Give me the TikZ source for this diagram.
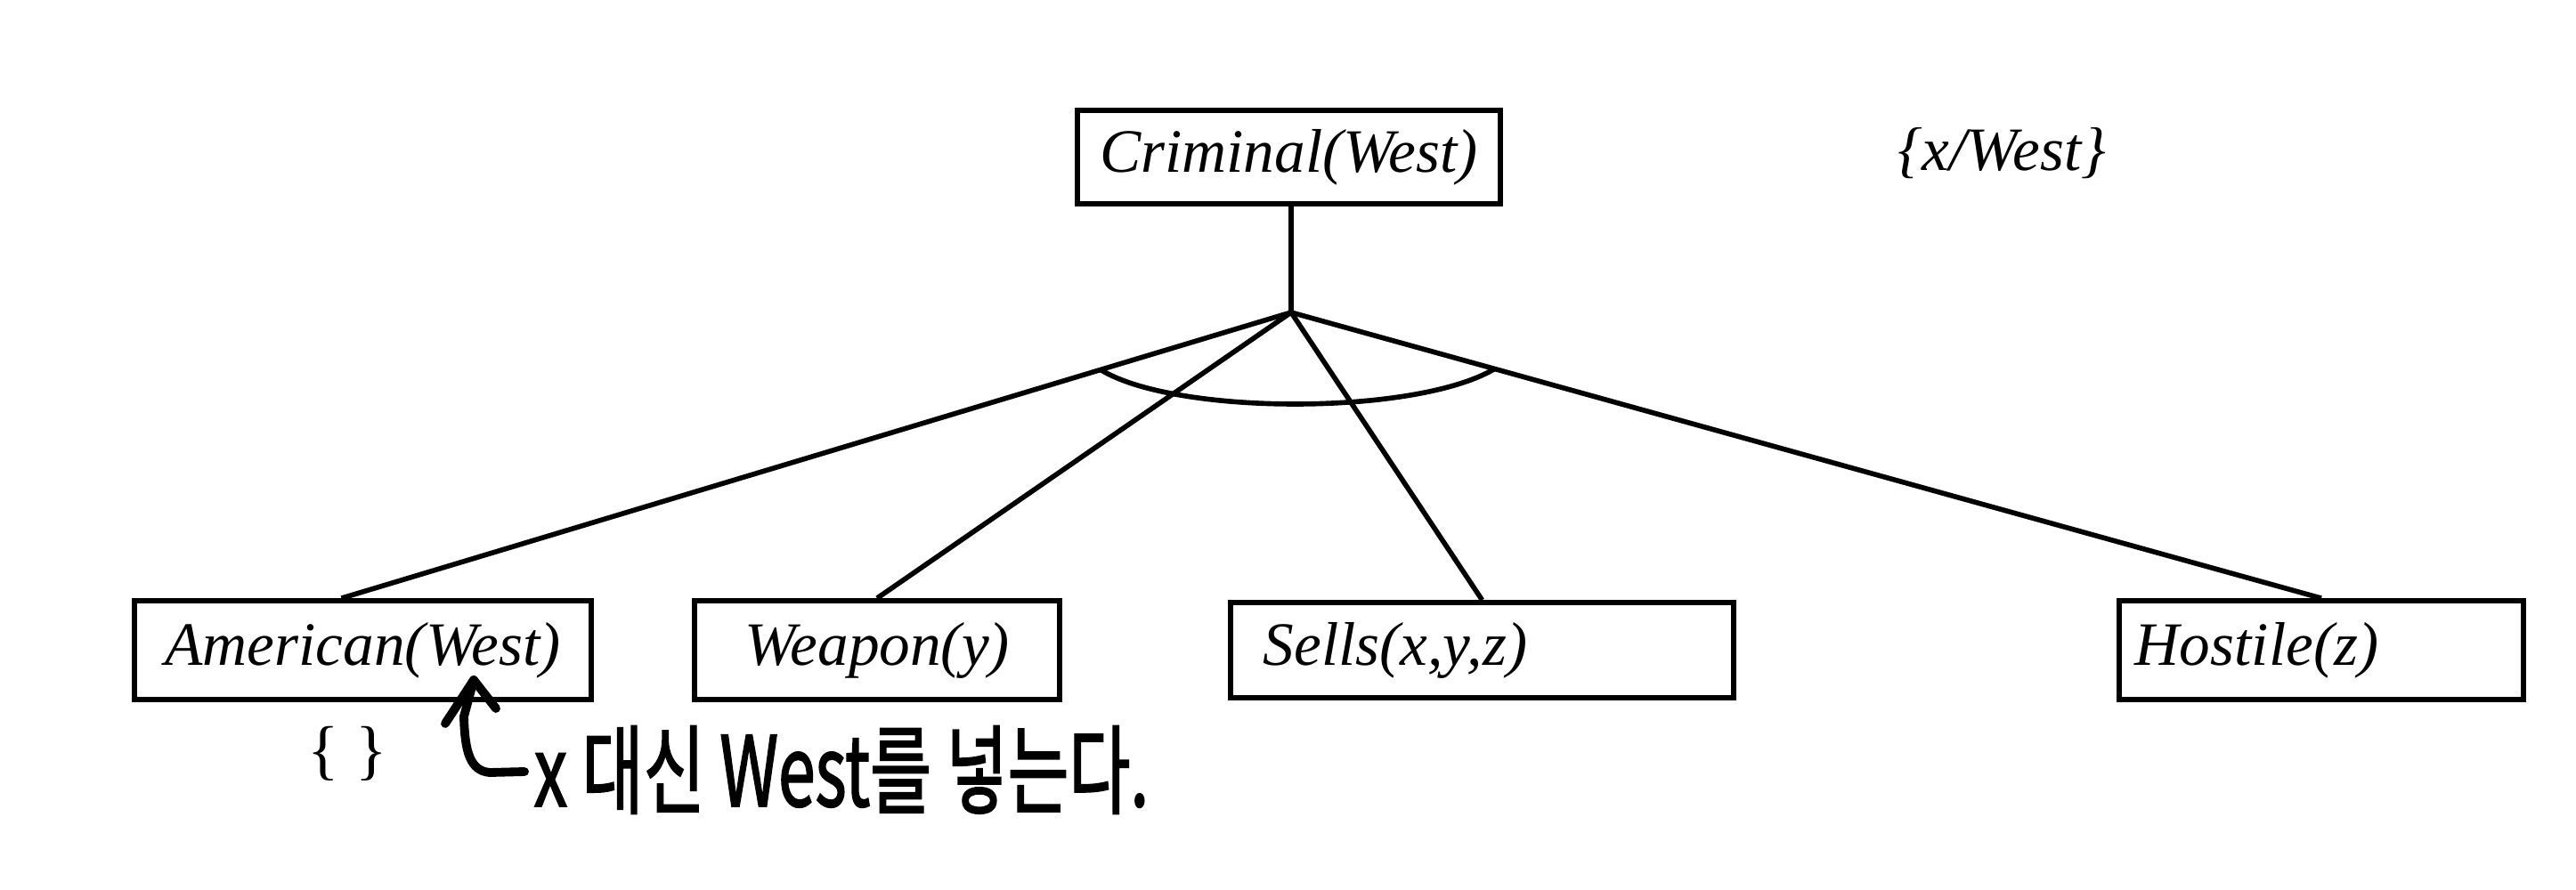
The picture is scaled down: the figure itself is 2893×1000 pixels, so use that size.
\documentclass[tikz,border=0pt]{standalone}
\usepackage{fontspec}
\setmainfont{Liberation Serif}
\newfontfamily\krfont[FakeBold=2]{Noto Sans CJK KR}
\usetikzlibrary{calc}
\begin{document}
\begin{tikzpicture}[x=0.01cm,y=-0.01cm,
  lbl/.style={font=\fontsize{19.7}{22}\selectfont\itshape},
  box/.style={draw, line width=1.6pt, inner sep=0pt, lbl},
  conn/.style={line width=1.6pt},
  hand/.style={line width=2.8pt, line cap=round, line join=round}
]
\useasboundingbox (0,0) rectangle (2893,1000);
% boxes
\node[box, minimum width=4.75cm, minimum height=1.05cm] (crim) at (1447.5,176.5) {Criminal(West)};
\node[box, minimum width=5.13cm, minimum height=1.11cm] (am) at (407.5,730.5) {American(West)};
\node[box, minimum width=4.10cm, minimum height=1.11cm] (wp) at (985,730.5) {Weapon(y)};
\node[box, minimum width=5.65cm, minimum height=1.07cm, text width=4.91cm, inner xsep=0.37cm, align=left] (se) at (1664.5,730.5) {Sells(x,y,z)};
\node[box, minimum width=4.54cm, minimum height=1.11cm, text width=4.18cm, inner xsep=0.18cm, align=left] (ho) at (2607,730.5) {Hostile(z)};
% labels
\node[lbl] (sub) at (2248,172) {\{x/West\}};
\node[font=\fontsize{21}{24}\selectfont] (empty) at (390,847) {\{ \}};
\node[inner sep=0pt] (note) at (945,865) {\resizebox{6.9cm}{0.9cm}{\krfont x 대신 West를 넣는다.}};
% connectors
\coordinate (J) at (1450,351);
\coordinate (amtop) at ($(am.north)+(-24,0)$);
\draw[conn] (J |- crim.south) -- (J);
\draw[conn] (J) -- (amtop);
\draw[conn] (J) -- (wp.north);
\draw[conn] (J) -- (se.north);
\draw[conn] (J) -- (ho.north);
\coordinate (a1) at ($(J)!0.2006!(amtop)$);
\coordinate (a2) at ($(J)!0.1975!(ho.north)$);
\draw[conn] (a1) .. controls (1320,467) and (1590,467) .. (a2);
% handwritten arrow
\coordinate (tip) at (532,764);
\draw[hand] ($(note.west)+(-10,2)$) -- (550,868) .. controls (528,866) and (522,845) .. (521,805) -- (tip);
\draw[hand] ($(tip)+(-32,49)$) -- (tip) -- ($(tip)+(25,32)$);
\end{tikzpicture}
\end{document}
